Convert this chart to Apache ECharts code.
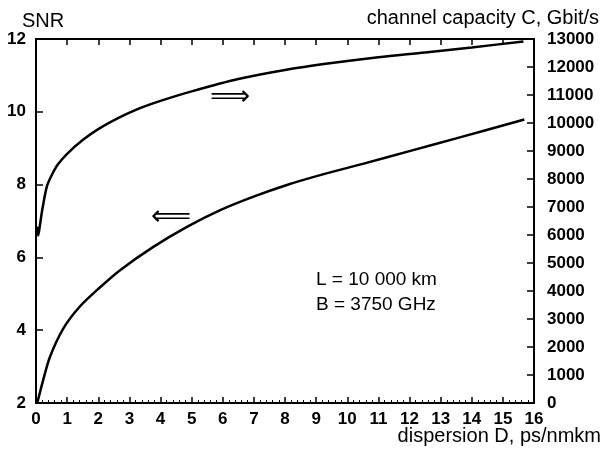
<!DOCTYPE html>
<html>
<head>
<meta charset="utf-8">
<script src="https://cdn.jsdelivr.net/npm/echarts@6/dist/echarts.min.js"></script>
<style>
  html, body { margin: 0; padding: 0; background: #fff; }
  #chart { width: 615px; height: 461px; }
</style>
</head>
<body>
<div id="chart"></div>
<script>
// dispersion D (ps/nmkm) for the SNR curve and its values
var snrD = [0.04, 0.1, 0.23, 0.45, 0.88, 1.41, 2.06, 2.7, 3.77, 4.85, 5.92, 6.99, 8.06, 9.13, 10.5, 12.0, 13.5, 15.69]
var snrVal = [2.0, 2.2, 2.63, 3.27, 4.05, 4.65, 5.18, 5.65, 6.29, 6.84, 7.3, 7.67, 7.99, 8.26, 8.57, 8.92, 9.27, 9.79]

// dispersion D for the capacity curve and capacity in Gbit/s
var capD = [0.03, 0.07, 0.12, 0.2, 0.35, 0.5, 0.7, 1.0, 1.5, 2.0, 2.65, 3.34, 4.0, 5.0, 6.5, 8.0, 9.5, 11.0, 12.5, 14.0, 15.66]
var capVal = [6300, 5980, 6300, 6890, 7735, 8125, 8515, 8900, 9390, 9780, 10180, 10530, 10790, 11130, 11570, 11895, 12140, 12350, 12520, 12700, 12910]

var snrTicks = [2, 12, 2]       // min, max, interval
var capTicks = [0, 13000, 1000]
var dTicks = [0, 16, 1]

function pairs(xs, ys) {
  return xs.map(function (x, i) { return [x, ys[i]] })
}

var font = 'Liberation Sans, Arial, sans-serif'
var tickLabel = { color: '#000', fontFamily: font, fontSize: 17, fontWeight: 'bold' }
var axLine = { show: true, onZero: false, lineStyle: { color: '#000', width: 2 } }

var myChart = echarts.init(document.getElementById('chart'))
var option = {
  backgroundColor: '#fff',
  animation: false,
  grid: { left: 36, right: 81, top: 39, bottom: 58, show: true, borderColor: '#000', borderWidth: 2 },
  xAxis: [{
    type: 'value', min: dTicks[0], max: dTicks[1], interval: dTicks[2],
    axisLine: axLine,
    axisTick: { inside: true, length: 6, lineStyle: { color: '#000', width: 1.5 } },
    minorTick: { show: true, splitNumber: 5, length: 3, lineStyle: { color: '#000', width: 1 } },
    axisLabel: Object.assign({ margin: 8 }, tickLabel),
    splitLine: { show: false }
  }, {
    type: 'value', position: 'top', min: dTicks[0], max: dTicks[1], interval: dTicks[2],
    axisLine: axLine,
    axisTick: { inside: true, length: 6, lineStyle: { color: '#000', width: 1.5 } },
    axisLabel: { show: false },
    splitLine: { show: false }
  }],
  yAxis: [{
    type: 'value', min: snrTicks[0], max: snrTicks[1], interval: snrTicks[2],
    alignTicks: false,
    axisLine: axLine,
    axisTick: { inside: true, length: 7, lineStyle: { color: '#000', width: 1.5 } },
    axisLabel: Object.assign({ margin: 10 }, tickLabel),
    splitLine: { show: false }
  }, {
    type: 'value', position: 'right', min: capTicks[0], max: capTicks[1], interval: capTicks[2],
    alignTicks: false,
    axisLine: axLine,
    axisTick: { inside: true, length: 7, lineStyle: { color: '#000', width: 1.5 } },
    axisLabel: Object.assign({ margin: 13, formatter: function (v) { return String(v) } }, tickLabel),
    splitLine: { show: false }
  }],
  series: [{
    name: 'SNR', type: 'line', xAxisIndex: 0, yAxisIndex: 0,
    data: pairs(snrD, snrVal), smooth: 0.3, showSymbol: false,
    lineStyle: { color: '#000', width: 2.5 }
  }, {
    name: 'C', type: 'line', xAxisIndex: 0, yAxisIndex: 1,
    data: pairs(capD, capVal), smooth: 0.3, showSymbol: false,
    lineStyle: { color: '#000', width: 2.5 }
  }],
  graphic: [
    { type: 'text', left: 22, top: 11, style: { text: 'SNR', fill: '#000', font: '20px ' + font } },
    { type: 'text', right: 16, top: 8, style: { text: 'channel capacity C, Gbit/s', fill: '#000', font: '20px ' + font } },
    { type: 'text', right: 14, top: 426, style: { text: 'dispersion D, ps/nmkm', fill: '#000', font: '20px ' + font } },
    { type: 'text', left: 316, top: 270, style: { text: 'L = 10 000 km', fill: '#000', font: '19px ' + font } },
    { type: 'text', left: 316, top: 295, style: { text: 'B = 3750 GHz', fill: '#000', font: '19px ' + font } },
    { type: 'text', left: 210, top: 84, style: { text: '\u27F9', fill: '#000', font: '28px DejaVu Sans' } },
    { type: 'text', left: 151, top: 204, style: { text: '\u27F8', fill: '#000', font: '28px DejaVu Sans' } }
  ]
}
myChart.setOption(option)
</script>
</body>
</html>
